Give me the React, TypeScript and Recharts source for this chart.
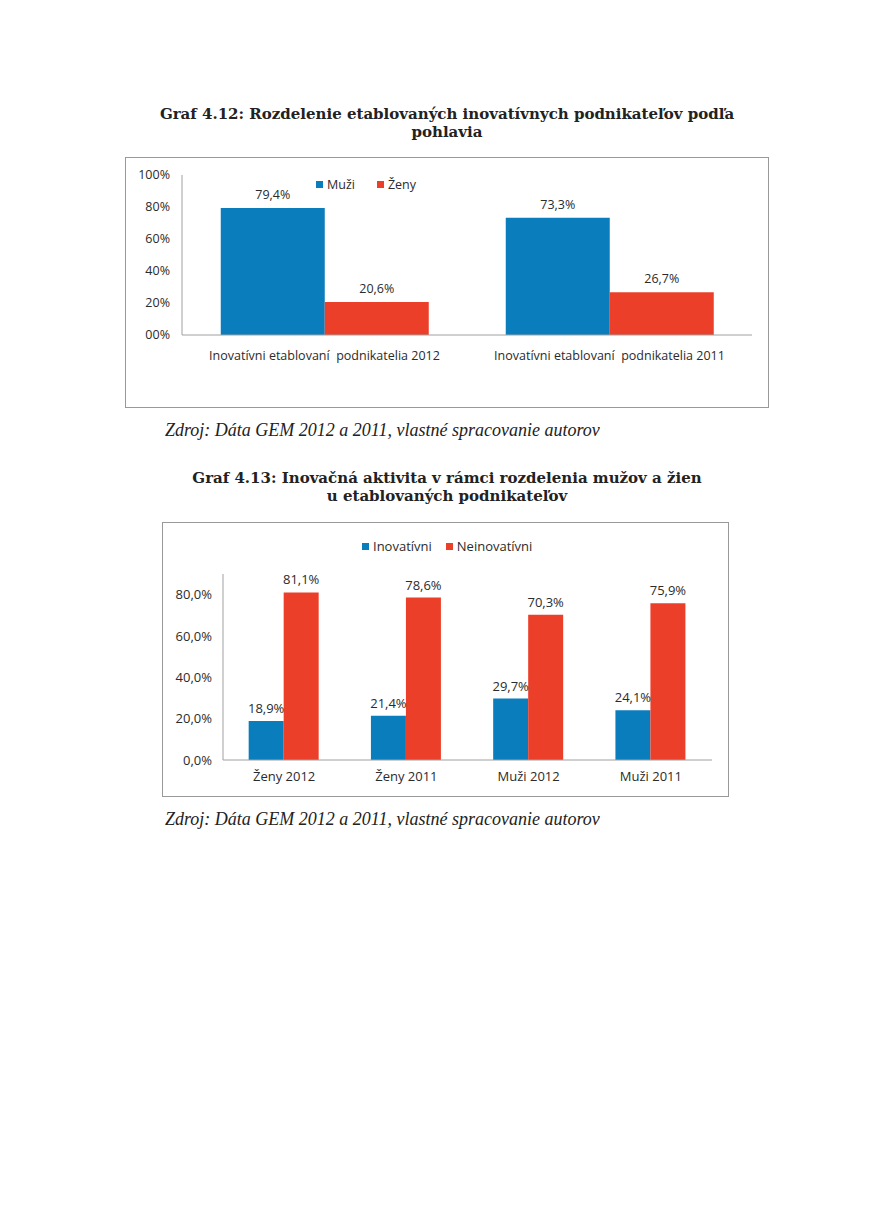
import React from "react";
import { BarChart, Bar, XAxis, YAxis, Legend, LabelList } from "recharts";

// Graf 4.12
const categories1 = [
  "Inovatívni etablovaní  podnikatelia 2012",
  "Inovatívni etablovaní  podnikatelia 2011",
];
const muzi = [79.4, 73.3];
const zeny = [20.6, 26.7];
const ticks1 = [0, 20, 40, 60, 80, 100];

// Graf 4.13
const categories2 = ["Ženy 2012", "Ženy 2011", "Muži 2012", "Muži 2011"];
const inovativni = [18.9, 21.4, 29.7, 24.1];
const neinovativni = [81.1, 78.6, 70.3, 75.9];
const ticks2 = [0, 20, 40, 60, 80];

const BLUE = "#0A7DBD";
const RED = "#EC3F2A";
const FONT = "'Open Sans', sans-serif";
const TEXT = "#2b2b2b";
const AXIS = "#a0a0a0";

const data1 = categories1.map((name, i) => ({ name, muzi: muzi[i], zeny: zeny[i] }));
const data2 = categories2.map((name, i) => ({
  name,
  inovativni: inovativni[i],
  neinovativni: neinovativni[i],
}));

const comma = (v: number, digits = 1) => v.toFixed(digits).replace(".", ",") + "%";
// svg collapses repeated spaces, keep the double space from the source
const keepSpaces = (s: string) => s.replace(/  /g, " \u00a0");

function SquareLegend({ payload, gap, fontSize }: any) {
  return (
    <div style={{ display: "flex", fontFamily: FONT, fontSize, color: TEXT, whiteSpace: "nowrap" }}>
      {(payload || []).map((p: any, i: number) => (
        <div key={i} style={{ display: "flex", alignItems: "center", marginRight: gap }}>
          <span style={{ width: 7, height: 7, background: p.color, display: "inline-block", marginRight: 4 }} />
          <span>{p.value}</span>
        </div>
      ))}
    </div>
  );
}

const titleStyle: React.CSSProperties = {
  position: "absolute",
  left: 0,
  width: 894,
  textAlign: "center",
  fontFamily: "'DejaVu Serif', serif",
  fontWeight: "bold",
  fontSize: 15,
  lineHeight: "18px",
  color: "#222",
  whiteSpace: "nowrap",
};

const sourceStyle: React.CSSProperties = {
  position: "absolute",
  left: 165,
  fontFamily: "'Liberation Serif', serif",
  fontStyle: "italic",
  fontSize: 18,
  color: "#222",
  whiteSpace: "nowrap",
};

export default function App() {
  return (
    <div style={{ position: "absolute", left: 0, top: 0, width: 871, height: 1231, background: "#fff" }}>
      <div style={{ ...titleStyle, top: 105 }}>
        Graf 4.12: Rozdelenie etablovaných inovatívnych podnikateľov podľa
        <br />
        pohlavia
      </div>

      <div style={{ position: "absolute", left: 125, top: 157, width: 642, height: 249, border: "1px solid #999" }}>
        <BarChart
          width={642}
          height={249}
          data={data1}
          barGap={0}
          barCategoryGap="13.6%"
          margin={{ top: 17, right: 16, left: 0, bottom: 0 }}
        >
          <XAxis
            dataKey="name"
            axisLine={{ stroke: AXIS }}
            tickLine={false}
            tick={{ fontFamily: FONT, fontSize: 12.5, fill: TEXT }}
            tickFormatter={keepSpaces}
            tickMargin={10}
            height={72}
            interval={0}
          />
          <YAxis
            domain={[0, 100]}
            ticks={ticks1}
            axisLine={{ stroke: AXIS }}
            tickLine={false}
            tickMargin={6}
            width={56}
            tick={{ fontFamily: FONT, fontSize: 12.5, fill: TEXT }}
            tickFormatter={(v: number) => (v === 0 ? "00%" : `${v}%`)}
          />
          <Legend
            layout="horizontal"
            verticalAlign="middle"
            align="center"
            wrapperStyle={{ top: 18, left: 190, width: "auto" }}
            content={(props: any) => <SquareLegend {...props} gap={22} fontSize={12.5} />}
          />
          <Bar dataKey="muzi" name="Muži" fill={BLUE} isAnimationActive={false}>
            <LabelList
              dataKey="muzi"
              position="top"
              offset={9}
              formatter={(v: any) => comma(Number(v))}
              style={{ fontFamily: FONT, fontSize: 12.5, fill: TEXT }}
            />
          </Bar>
          <Bar dataKey="zeny" name="Ženy" fill={RED} isAnimationActive={false}>
            <LabelList
              dataKey="zeny"
              position="top"
              offset={9}
              formatter={(v: any) => comma(Number(v))}
              style={{ fontFamily: FONT, fontSize: 12.5, fill: TEXT }}
            />
          </Bar>
        </BarChart>
      </div>

      <div style={{ ...sourceStyle, top: 420 }}>Zdroj: Dáta GEM 2012 a 2011, vlastné spracovanie autorov</div>

      <div style={{ ...titleStyle, top: 469 }}>
        Graf 4.13: Inovačná aktivita v rámci rozdelenia mužov a žien
        <br />
        u etablovaných podnikateľov
      </div>

      <div style={{ position: "absolute", left: 162, top: 522, width: 565, height: 273, border: "1px solid #999" }}>
        <BarChart
          width={565}
          height={273}
          data={data2}
          barGap={0}
          barCategoryGap="21%"
          margin={{ top: 51, right: 16, left: 0, bottom: 0 }}
        >
          <XAxis
            dataKey="name"
            axisLine={{ stroke: AXIS }}
            tickLine={false}
            tick={{ fontFamily: FONT, fontSize: 13, fill: TEXT }}
            tickMargin={6}
            height={36}
            interval={0}
          />
          <YAxis
            domain={[0, 90]}
            ticks={ticks2}
            axisLine={{ stroke: AXIS }}
            tickLine={false}
            tickMargin={5}
            width={60}
            tick={{ fontFamily: FONT, fontSize: 13, fill: TEXT }}
            tickFormatter={(v: number) => comma(v)}
          />
          <Legend
            layout="horizontal"
            verticalAlign="middle"
            align="center"
            wrapperStyle={{ top: 14, left: 199, width: "auto" }}
            content={(props: any) => <SquareLegend {...props} gap={14} fontSize={13} />}
          />
          <Bar dataKey="inovativni" name="Inovatívni" fill={BLUE} isAnimationActive={false}>
            <LabelList
              dataKey="inovativni"
              position="top"
              offset={8}
              formatter={(v: any) => comma(Number(v))}
              style={{ fontFamily: FONT, fontSize: 13, fill: TEXT }}
            />
          </Bar>
          <Bar dataKey="neinovativni" name="Neinovatívni" fill={RED} isAnimationActive={false}>
            <LabelList
              dataKey="neinovativni"
              position="top"
              offset={8}
              formatter={(v: any) => comma(Number(v))}
              style={{ fontFamily: FONT, fontSize: 13, fill: TEXT }}
            />
          </Bar>
        </BarChart>
      </div>

      <div style={{ ...sourceStyle, top: 809 }}>Zdroj: Dáta GEM 2012 a 2011, vlastné spracovanie autorov</div>
    </div>
  );
}
